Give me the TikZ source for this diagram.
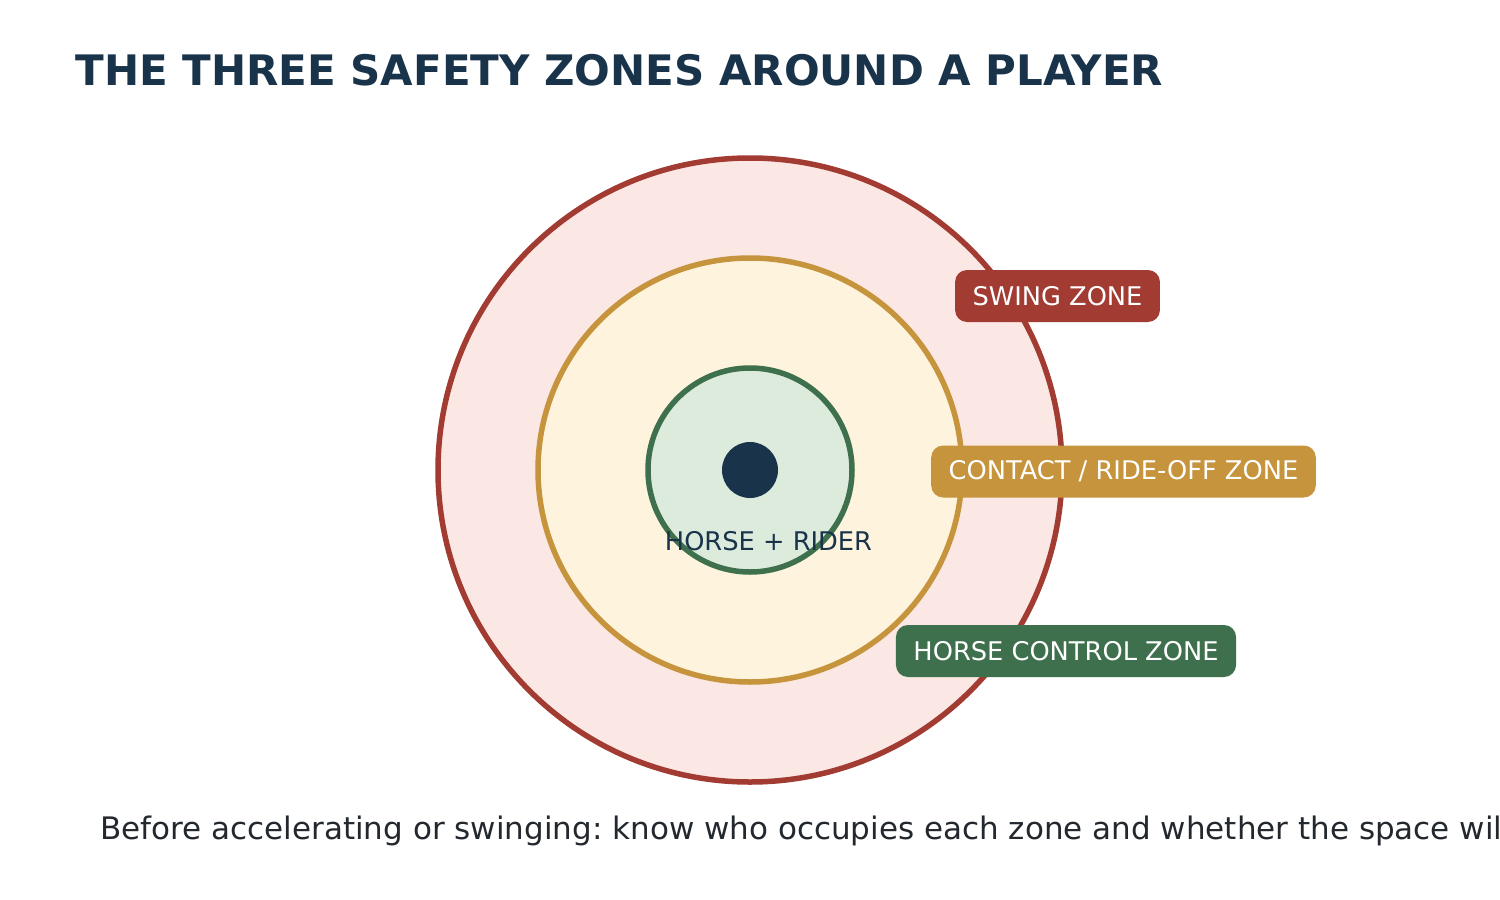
\documentclass[tikz,border=0pt]{standalone}
\usepackage{fontspec}
\setmainfont{DejaVu Sans}
\usepackage{xcolor}
\definecolor{navy}{HTML}{18334A}
\definecolor{swing}{HTML}{A23B32}
\definecolor{swingfill}{HTML}{FBE7E4}
\definecolor{contact}{HTML}{C6943C}
\definecolor{contactfill}{HTML}{FEF3DC}
\definecolor{control}{HTML}{3F704D}
\definecolor{controlfill}{HTML}{DDEBDD}
\definecolor{notegray}{HTML}{22282E}
\frenchspacing

\tikzset{
  zonetag/.style={fill=#1, text=white, rounded corners=6pt, inner xsep=8.75pt,
    minimum height=26pt, font=\fontsize{12.85}{15}\selectfont},
  zonering/.style={line width=2.75pt}
}

\begin{document}
\begin{tikzpicture}[x=0.5pt,y=-0.5pt]
\clip (0,0) rectangle (1500,900);
\fill[white] (0,0) rectangle (1500,900);

% title
\node[anchor=base west, inner sep=0, text=navy, font=\fontsize{21}{25}\selectfont\bfseries] (title) at (75,85) {THE THREE SAFETY ZONES AROUND A PLAYER};

% rings
\draw[zonering, swing, fill=swingfill] (750,470) circle [radius=312];
\draw[zonering, contact, fill=contactfill] (750,470) circle [radius=212];
\draw[zonering, control, fill=controlfill] (750,470) circle [radius=102];
\fill[navy] (750,470) circle [radius=28];

% player
\node[text=navy, inner sep=0, font=\fontsize{12.85}{15}\selectfont] (rider) at (768.5,541) {HORSE + RIDER};

% zone tags
\node[zonetag=swing] (swingtag) at (1057.5,296) {SWING ZONE};
\node[zonetag=contact] (contacttag) at (1123.5,471.5) {CONTACT / RIDE-OFF ZONE};
\node[zonetag=control] (controltag) at (1066,651) {HORSE CONTROL ZONE};

% note
\node[anchor=base west, inner sep=0, text=notegray, font=\fontsize{15.5}{18}\selectfont] (note) at (100,839) {Before accelerating or swinging: know who occupies each zone and whether the space wil};
\end{tikzpicture}
\end{document}
